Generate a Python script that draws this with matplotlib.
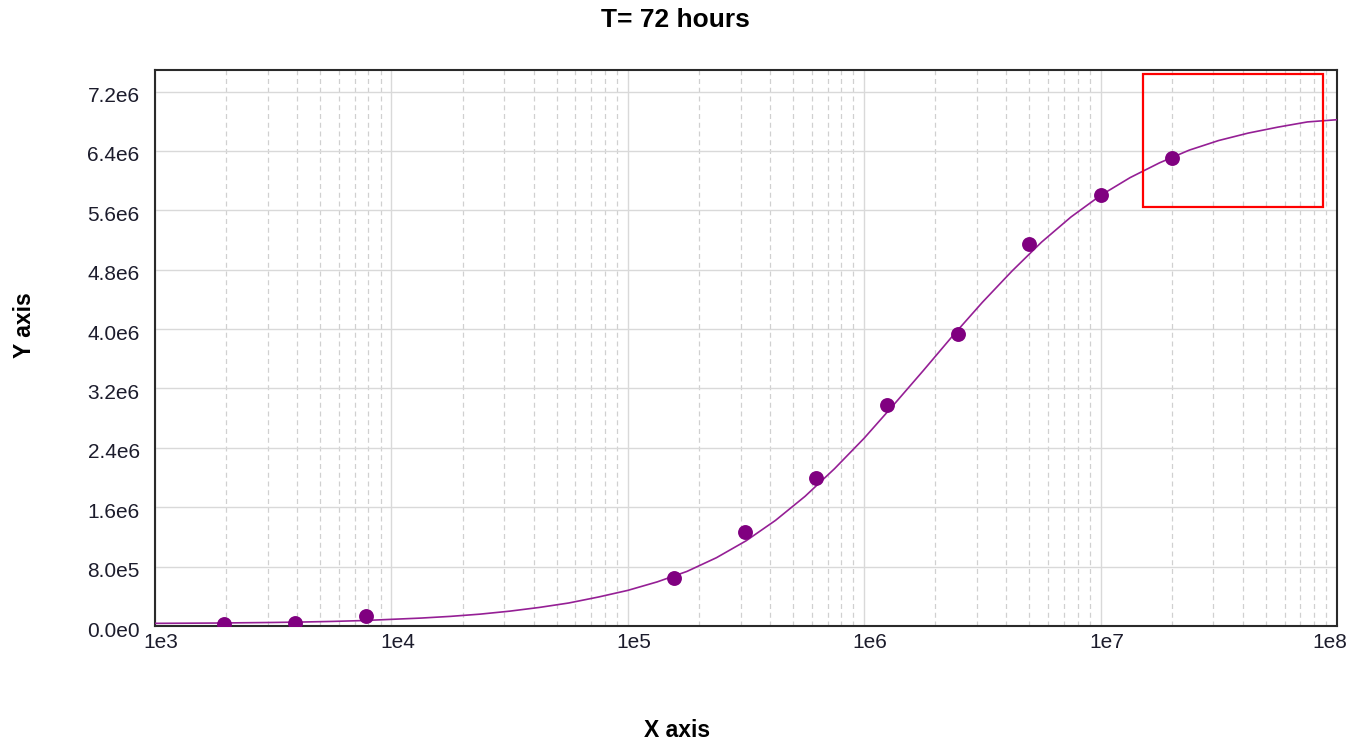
import matplotlib
matplotlib.use("Agg")
import matplotlib.pyplot as plt
import matplotlib.transforms as mtransforms
from matplotlib.ticker import FuncFormatter, LogLocator, MultipleLocator
from matplotlib.patches import Rectangle

plt.rcParams['font.family'] = ['Liberation Sans', 'DejaVu Sans']

# measured points
conc = [1953, 3906, 7813, 156250, 312500, 625000, 1.25e6, 2.5e6, 5e6, 1e7, 2e7]
signal = [2.3e4, 4.5e4, 1.35e5, 6.52e5, 1.268e6, 2.0e6, 2.98e6, 3.935e6, 5.15e6, 5.81e6, 6.31e6]

curve_logx = [3.0, 3.125, 3.25, 3.375, 3.5, 3.625, 3.75, 3.875,
              4.0, 4.125, 4.25, 4.375, 4.5, 4.625, 4.75, 4.875,
              5.0, 5.125, 5.25, 5.375, 5.5, 5.625, 5.75, 5.875,
              6.0, 6.125, 6.25, 6.375, 6.5, 6.625, 6.75, 6.875,
              7.0, 7.125, 7.25, 7.375, 7.5, 7.625, 7.75, 7.875, 8.0]
curve_y = [3.6e4, 3.8e4, 4.0e4, 4.4e4, 4.8e4, 5.4e4, 6.2e4, 7.3e4,
           9.0e4, 1.07e5, 1.3e5, 1.6e5, 2.0e5, 2.5e5, 3.1e5, 3.9e5,
           4.8e5, 5.95e5, 7.35e5, 9.2e5, 1.147e6, 1.423e6, 1.747e6, 2.12e6,
           2.53e6, 2.98e6, 3.44e6, 3.91e6, 4.36e6, 4.78e6, 5.17e6, 5.51e6,
           5.8e6, 6.04e6, 6.24e6, 6.41e6, 6.54e6, 6.64e6, 6.72e6, 6.79e6, 6.82e6]
curve_x = [10 ** v for v in curve_logx]

x_ticks = [1e3, 1e4, 1e5, 1e6, 1e7, 1e8]
x_tick_labels = ['1e3', '1e4', '1e5', '1e6', '1e7', '1e8']

# highlight box (data coords)
box_x = (1.51e7, 8.73e7)
box_y = (5.65e6, 7.43e6)

fig = plt.figure(figsize=(13.51, 7.42), dpi=100)
ax = fig.add_axes([0.1147, 0.1563, 0.8749, 0.7494])

ax.plot(curve_x, curve_y, color='#951f95', lw=1.2, zorder=3)
ax.scatter(conc, signal, s=115, color='#800080', zorder=4, linewidths=0)

ax.add_patch(Rectangle((box_x[0], box_y[0]), box_x[1] - box_x[0], box_y[1] - box_y[0],
                       fill=False, edgecolor='red', lw=1.6, zorder=5))

ax.set_xscale('log')
ax.set_xlim(1e3, 1e8)
ax.set_ylim(0, 7.49e6)
ax.set_xticks(x_ticks)
ax.set_xticklabels(x_tick_labels)
ax.xaxis.set_minor_locator(LogLocator(base=10, subs=range(2, 10), numticks=50))
ax.yaxis.set_major_locator(MultipleLocator(0.8e6))


def sci(v, pos):
    if v == 0:
        return '0.0e0'
    s = f"{v:.1e}"
    m, e = s.split('e')
    return f"{m}e{int(e)}"


ax.yaxis.set_major_formatter(FuncFormatter(sci))

ax.grid(True, which='major', color='#d9d9d9', lw=1.0, zorder=0)
ax.grid(True, which='minor', axis='x', color='#d0d0d0', lw=0.9, ls=(0, (4, 3)), zorder=0)
ax.set_axisbelow(True)

ax.tick_params(which='both', length=0, labelsize=15, colors='#1c1c2c')
ax.tick_params(axis='y', pad=11)
ax.tick_params(axis='x', pad=5)
for sp in ax.spines.values():
    sp.set_color('#2a2a2a')
    sp.set_linewidth(1.5)

# small offsets like the original renderer
xoff = mtransforms.ScaledTranslation(6 / 100, 0, fig.dpi_scale_trans)
yoff = mtransforms.ScaledTranslation(0, -3 / 100, fig.dpi_scale_trans)
xlabels = ax.get_xticklabels()
for lab in xlabels[:-1]:
    lab.set_transform(lab.get_transform() + xoff)
# last label kept inside the figure
xlabels[-1].set_horizontalalignment('right')
xlabels[-1].set_transform(xlabels[-1].get_transform()
                          + mtransforms.ScaledTranslation(10 / 100, 0, fig.dpi_scale_trans))
for lab in ax.get_yticklabels():
    lab.set_transform(lab.get_transform() + yoff)

fig.text(675 / 1351, 1 - 20 / 742, 'T= 72 hours', fontsize=19, fontweight='bold',
         ha='center', va='center')
ax.set_xlabel('X axis', fontsize=16.5, fontweight='bold')
ax.xaxis.set_label_coords(0.4416, -0.187)
ax.xaxis.label.set_va('center')
ax.set_ylabel('Y axis', fontsize=16.5, fontweight='bold')
ax.yaxis.set_label_coords(-0.110, 0.541)
ax.yaxis.label.set_va('center')

fig.savefig('out.png', dpi=100)
